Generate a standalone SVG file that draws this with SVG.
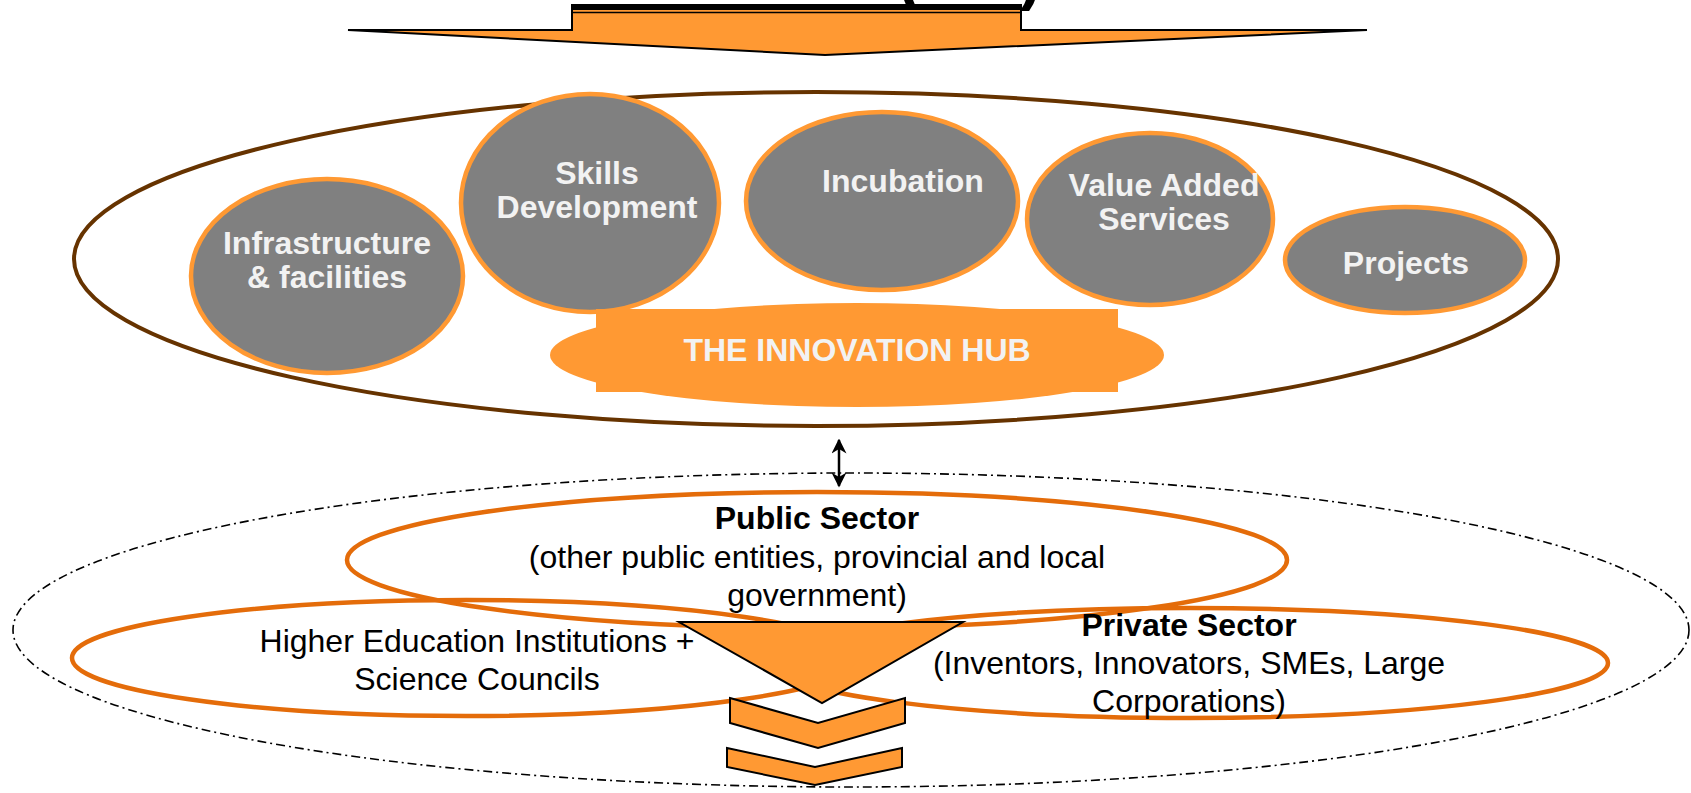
<svg xmlns="http://www.w3.org/2000/svg" width="1691" height="793" viewBox="0 0 1691 793">
<defs>
<style>
.t{font-family:"Liberation Sans",Arial,sans-serif;font-size:32px;text-anchor:middle}
.w{fill:#F2F2F2;font-weight:bold}
.b{fill:#000}
.bb{fill:#000;font-weight:bold}
.g{fill:#808080;stroke:#FF9933;stroke-width:4.5}
.o{fill:none;stroke:#E46C0A;stroke-width:4.5}
.or{fill:#FF9933;stroke:#000;stroke-width:2;stroke-linejoin:miter}
</style>
<marker id="ah" viewBox="0 0 10 10" refX="9" refY="5" markerWidth="15" markerHeight="15" markerUnits="userSpaceOnUse" orient="auto-start-reverse"><path d="M0,0 L10,5 L0,10 L3,5 z" fill="#000"/></marker>
</defs>
<rect width="1691" height="793" fill="#fff"/>

<g id="title-fragment">
<text class="t bb" x="897" y="-3" style="font-size:66px;text-anchor:start">(</text>
<text class="t bb" x="1020" y="-3" style="font-size:66px;text-anchor:start">)</text>
</g>

<g id="top-arrow">
<polygon class="or" points="572,5 1021,5 1021,30 1367,30 825,55 348,30 572,30"/>
<rect x="572" y="4" width="449" height="6" fill="#000"/>
<line x1="572" y1="12.5" x2="1021" y2="12.5" stroke="#000" stroke-width="1.5"/>
</g>

<g id="hub-boundary">
<ellipse cx="816" cy="259" rx="742" ry="167" fill="none" stroke="#663300" stroke-width="4"/>
</g>

<g id="infrastructure">
<ellipse class="g" cx="327" cy="276" rx="136" ry="97"/>
<text class="t w" x="327" y="254">Infrastructure</text>
<text class="t w" x="327" y="288">&amp; facilities</text>
</g>

<g id="skills">
<ellipse class="g" cx="590" cy="203" rx="129" ry="109"/>
<text class="t w" x="597" y="184">Skills</text>
<text class="t w" x="597" y="218">Development</text>
</g>

<g id="incubation">
<ellipse class="g" cx="882" cy="201" rx="136" ry="89"/>
<text class="t w" x="903" y="192">Incubation</text>
</g>

<g id="value-added">
<ellipse class="g" cx="1150" cy="219" rx="123" ry="86"/>
<text class="t w" x="1164" y="196">Value Added</text>
<text class="t w" x="1164" y="230">Services</text>
</g>

<g id="projects">
<ellipse class="g" cx="1405" cy="260" rx="120" ry="53"/>
<text class="t w" x="1406" y="274">Projects</text>
</g>

<g id="innovation-hub">
<ellipse cx="857" cy="355" rx="307" ry="52" fill="#FF9933"/>
<rect x="596" y="309" width="522" height="83" fill="#FF9933"/>
<text class="t w" x="857" y="361">THE INNOVATION HUB</text>
</g>

<g id="ecosystem">
<ellipse cx="851" cy="630" rx="838" ry="157" fill="none" stroke="#000" stroke-width="1.6" stroke-dasharray="9,4,2,4"/>
</g>

<g id="public-sector">
<ellipse class="o" cx="817" cy="560" rx="470" ry="68"/>
</g>
<g id="hei">
<ellipse class="o" cx="466" cy="658" rx="394" ry="58"/>
</g>
<g id="private-sector">
<ellipse class="o" cx="1190" cy="663" rx="418" ry="55"/>
</g>

<g id="funnel">
<polygon class="or" points="679,622 963,622 822,703"/>
<polygon class="or" points="730,698 818,723 905,698 905,723 818,748 730,723"/>
<polygon class="or" points="727,748 815,767 902,748 902,767 815,785 727,767"/>
</g>

<g id="labels">
<text class="t bb" x="817" y="529">Public Sector</text>
<text class="t b" x="817" y="568">(other public entities, provincial and local</text>
<text class="t b" x="817" y="606">government)</text>
<text class="t b" x="477" y="652">Higher Education Institutions +</text>
<text class="t b" x="477" y="690">Science Councils</text>
<text class="t bb" x="1189" y="636">Private Sector</text>
<text class="t b" x="1189" y="674">(Inventors, Innovators, SMEs, Large</text>
<text class="t b" x="1189" y="712">Corporations)</text>
</g>

<g id="connectors">
<line x1="839" y1="440" x2="839" y2="486" stroke="#000" stroke-width="2.5" marker-start="url(#ah)" marker-end="url(#ah)"/>
</g>
</svg>
